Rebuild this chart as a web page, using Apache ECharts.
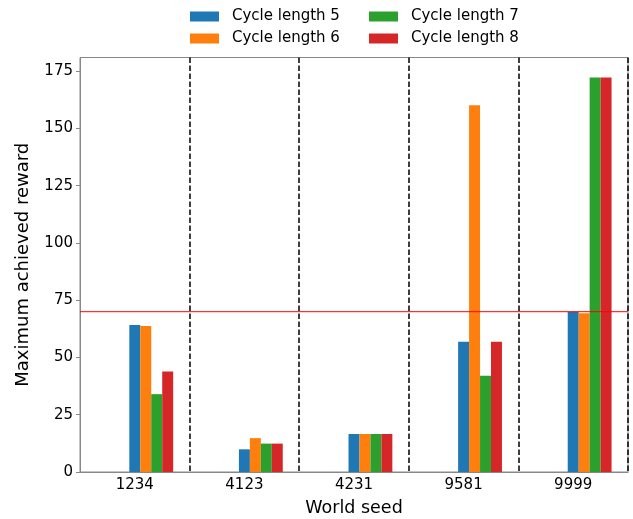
<!DOCTYPE html>
<html>
<head>
<meta charset="utf-8">
<script src="https://cdn.jsdelivr.net/npm/echarts@6/dist/echarts.min.js"></script>
<style>
  html, body { margin: 0; padding: 0; background: #fff; }
  #chart { width: 633px; height: 519px; }
</style>
</head>
<body>
<div id="chart"></div>
<script>
// world seeds on the x axis
const seeds = ['1234', '4123', '4231', '9581', '9999']
// max achieved reward for each cycle length
const len5 = [64.2, 9.9, 16.6, 56.9, 70.0]
const len6 = [63.7, 14.8, 16.6, 160.2, 69.3]
const len7 = [34.0, 12.4, 16.6, 42.0, 172.3]
const len8 = [43.9, 12.4, 16.6, 56.9, 172.3]
const threshold = 70
const yTicks = [0, 25, 50, 75, 100, 125, 150, 175]

const font = 'DejaVu Sans'
const chart = echarts.init(document.getElementById('chart'))

// matplotlib puts the first bar on the tick, so pad the group with 3 empty series
let pad = (name) => ({
  name: name,
  type: 'bar',
  barWidth: '10%',
  barGap: '0%',
  itemStyle: { color: 'transparent' },
  data: []
})
let bars = (name, color, data) => ({
  name: name,
  type: 'bar',
  barWidth: '10%',
  barGap: '0%',
  itemStyle: { color: color },
  data: data
})

let legendBase = {
  orient: 'vertical',
  top: 9,
  padding: 0,
  itemWidth: 29,
  itemHeight: 10,
  itemGap: 7,
  icon: 'rect',
  textStyle: { fontFamily: font, fontSize: 15, lineHeight: 15, color: '#000', padding: [0, 0, 0, 8] }
}

let option = {
  animation: false,
  color: ['#1f77b4', '#ff7f0e', '#2ca02c', '#d62728'],
  legend: [
    Object.assign({}, legendBase, { left: 190, data: ['Cycle length 5', 'Cycle length 6'] }),
    Object.assign({}, legendBase, { left: 369, data: ['Cycle length 7', 'Cycle length 8'] })
  ],
  grid: {
    left: 80,
    right: 5,
    top: 57.5,
    bottom: 47,
    outerBoundsMode: 'none',
    show: true,
    borderColor: '#888',
    borderWidth: 1
  },
  xAxis: [{
    type: 'category',
    data: seeds,
    name: 'World seed',
    nameLocation: 'middle',
    nameGap: 27,
    nameTextStyle: { fontFamily: font, fontSize: 17.5, color: '#000' },
    axisLine: { lineStyle: { color: '#888', width: 1 } },
    axisTick: { alignWithLabel: true, length: 4, lineStyle: { color: '#888' } },
    axisLabel: { fontFamily: font, fontSize: 15, color: '#000', margin: 6 },
    splitLine: {
      show: true,
      // no dashed line on the left spine
      interval: (i) => i !== 0,
      lineStyle: { color: '#000', width: 1.5, type: [5.5, 2.5] }
    }
  }, {
    // hidden 0..1 axis so the threshold line spans the whole plot
    type: 'value',
    min: 0,
    max: 1,
    show: false
  }],
  yAxis: {
    type: 'value',
    min: 0,
    max: 181,
    z: 5,
    name: 'Maximum achieved reward',
    nameLocation: 'middle',
    nameGap: 48,
    nameTextStyle: { fontFamily: font, fontSize: 18, color: '#000' },
    axisLine: { show: true, lineStyle: { color: '#888', width: 1 } },
    axisTick: { show: true, length: 4, customValues: yTicks, lineStyle: { color: '#888' } },
    axisLabel: { fontFamily: font, fontSize: 15, color: '#000', margin: 7, customValues: yTicks },
    splitLine: { show: false }
  },
  series: [
    pad('pad1'),
    pad('pad2'),
    pad('pad3'),
    bars('Cycle length 5', '#1f77b4', len5),
    bars('Cycle length 6', '#ff7f0e', len6),
    bars('Cycle length 7', '#2ca02c', len7),
    bars('Cycle length 8', '#d62728', len8),
    {
      name: 'threshold',
      type: 'line',
      xAxisIndex: 1,
      z: 10,
      silent: true,
      symbol: 'none',
      lineStyle: { color: '#ff0000', width: 1 },
      data: [[0, threshold], [1, threshold]]
    }
  ]
}
chart.setOption(option)
</script>
</body>
</html>
